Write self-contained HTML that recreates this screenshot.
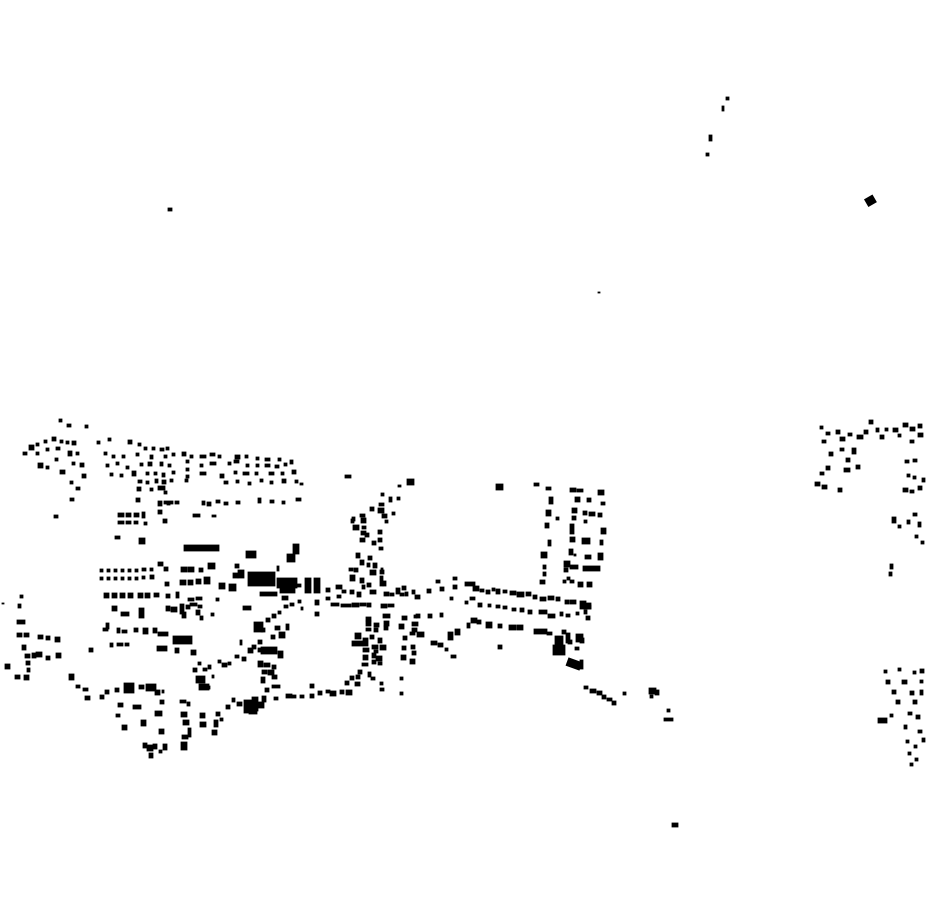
<!DOCTYPE html>
<html><head><meta charset="utf-8"><style>html,body{margin:0;padding:0;background:#fff}svg{display:block}</style></head>
<body>
<svg width="930" height="924" viewBox="0 0 930 924" xmlns="http://www.w3.org/2000/svg">
<g fill="#000" stroke="#000" stroke-width="0.8">
<rect x="168" y="208" width="4" height="3"/>
<rect x="726" y="97" width="3" height="3"/><rect x="722" y="106" width="2" height="5"/><rect x="709" y="135" width="3" height="6"/><rect x="706" y="153" width="3" height="3"/>
<rect x="866" y="197" width="9" height="8" transform="rotate(-30 870 201)"/>
<rect x="598" y="292" width="2" height="1"/>
<rect x="672" y="823" width="6" height="4"/>
<rect x="345" y="475" width="6" height="3"/><rect x="407" y="479" width="7" height="6"/><rect x="496" y="484" width="7" height="6"/>
<rect x="59" y="419" width="3" height="3"/><rect x="67" y="424" width="4" height="3"/><rect x="85" y="425" width="3" height="3"/>
<rect x="23" y="452" width="4" height="3"/><rect x="29" y="445" width="5" height="5"/><rect x="36" y="443" width="3" height="3"/><rect x="44" y="440" width="3" height="3"/>
<rect x="52" y="437" width="4" height="4"/><rect x="60" y="440" width="3" height="3"/><rect x="66" y="441" width="3" height="3"/><rect x="72" y="441" width="4" height="4"/>
<rect x="36" y="452" width="3" height="3"/><rect x="46" y="448" width="3" height="3"/><rect x="56" y="447" width="4" height="3"/><rect x="68" y="451" width="4" height="5"/><rect x="76" y="452" width="3" height="3"/>
<rect x="38" y="463" width="5" height="5"/><rect x="46" y="466" width="3" height="3"/><rect x="55" y="458" width="3" height="3"/><rect x="60" y="470" width="5" height="4"/><rect x="72" y="462" width="3" height="3"/><rect x="80" y="463" width="4" height="4"/>
<rect x="82" y="474" width="4" height="4"/><rect x="70" y="481" width="3" height="3"/><rect x="76" y="487" width="4" height="3"/><rect x="70" y="498" width="4" height="3"/><rect x="54" y="515" width="4" height="3"/>
<rect x="97" y="441" width="3" height="3"/><rect x="108" y="438" width="3" height="3"/><rect x="128" y="440" width="4" height="4"/><rect x="138" y="443" width="3" height="3"/><rect x="144" y="447" width="3" height="3"/><rect x="152" y="447" width="3" height="3"/><rect x="160" y="448" width="4" height="3"/><rect x="166" y="447" width="3" height="3"/><rect x="182" y="452" width="4" height="4"/><rect x="190" y="455" width="3" height="3"/><rect x="200" y="455" width="6" height="3"/><rect x="210" y="453" width="5" height="3"/><rect x="218" y="455" width="3" height="3"/><rect x="235" y="455" width="5" height="4"/><rect x="245" y="455" width="3" height="3"/><rect x="256" y="457" width="3" height="3"/><rect x="265" y="458" width="5" height="3"/><rect x="278" y="458" width="3" height="3"/><rect x="290" y="460" width="3" height="4"/>
<rect x="104" y="452" width="3" height="3"/><rect x="112" y="455" width="3" height="3"/><rect x="122" y="455" width="3" height="3"/><rect x="136" y="453" width="3" height="3"/><rect x="150" y="455" width="3" height="4"/><rect x="164" y="455" width="3" height="3"/><rect x="172" y="453" width="3" height="3"/><rect x="186" y="460" width="3" height="3"/><rect x="200" y="464" width="3" height="3"/><rect x="210" y="462" width="6" height="3"/><rect x="228" y="462" width="3" height="3"/><rect x="234" y="460" width="5" height="3"/><rect x="246" y="464" width="3" height="3"/><rect x="256" y="464" width="3" height="3"/><rect x="265" y="464" width="5" height="3"/><rect x="275" y="465" width="4" height="3"/><rect x="284" y="463" width="3" height="3"/>
<rect x="106" y="464" width="3" height="3"/><rect x="116" y="462" width="3" height="3"/><rect x="126" y="466" width="3" height="3"/><rect x="140" y="463" width="3" height="3"/><rect x="148" y="462" width="4" height="4"/><rect x="160" y="462" width="3" height="4"/><rect x="168" y="464" width="3" height="3"/><rect x="186" y="468" width="3" height="3"/><rect x="200" y="472" width="6" height="3"/><rect x="220" y="474" width="4" height="4"/><rect x="234" y="471" width="3" height="3"/><rect x="243" y="472" width="6" height="3"/><rect x="255" y="472" width="3" height="3"/><rect x="269" y="472" width="5" height="3"/><rect x="281" y="472" width="3" height="3"/><rect x="292" y="470" width="4" height="4"/>
<rect x="110" y="473" width="3" height="3"/><rect x="120" y="474" width="3" height="3"/><rect x="132" y="471" width="4" height="5"/><rect x="146" y="472" width="3" height="3"/><rect x="154" y="472" width="3" height="3"/><rect x="162" y="473" width="3" height="4"/><rect x="172" y="471" width="3" height="3"/><rect x="186" y="475" width="3" height="3"/><rect x="224" y="481" width="4" height="3"/><rect x="236" y="480" width="3" height="3"/><rect x="248" y="482" width="3" height="3"/><rect x="260" y="479" width="3" height="3"/><rect x="270" y="481" width="3" height="3"/><rect x="282" y="479" width="4" height="4"/><rect x="295" y="480" width="3" height="3"/><rect x="300" y="483" width="3" height="2"/>
<rect x="138" y="480" width="4" height="3"/><rect x="146" y="481" width="3" height="3"/><rect x="155" y="479" width="3" height="4"/><rect x="162" y="480" width="4" height="4"/><rect x="170" y="479" width="3" height="3"/><rect x="185" y="479" width="3" height="3"/>
<rect x="137" y="487" width="4" height="4"/><rect x="150" y="488" width="3" height="3"/><rect x="158" y="486" width="7" height="4"/><rect x="164" y="491" width="3" height="3"/><rect x="167" y="502" width="3" height="3"/><rect x="158" y="501" width="4" height="5"/><rect x="158" y="510" width="4" height="4"/><rect x="163" y="519" width="4" height="4"/>
<rect x="164" y="501" width="9" height="3"/><rect x="175" y="501" width="4" height="3"/><rect x="202" y="501" width="3" height="4"/><rect x="207" y="502" width="4" height="4"/><rect x="216" y="500" width="4" height="3"/><rect x="224" y="502" width="4" height="3"/><rect x="236" y="501" width="4" height="3"/><rect x="258" y="498" width="3" height="5"/><rect x="270" y="500" width="4" height="3"/><rect x="282" y="501" width="3" height="3"/><rect x="296" y="498" width="5" height="3"/>
<rect x="136" y="498" width="4" height="4"/><rect x="193" y="514" width="7" height="3"/><rect x="212" y="515" width="4" height="2"/>
<rect x="118" y="513" width="6" height="4"/><rect x="126" y="513" width="5" height="4"/><rect x="134" y="513" width="5" height="4"/><rect x="142" y="512" width="3" height="6"/>
<rect x="118" y="521" width="6" height="3"/><rect x="126" y="521" width="5" height="3"/><rect x="134" y="521" width="4" height="3"/><rect x="144" y="522" width="3" height="3"/>
<rect x="115" y="536" width="5" height="3"/><rect x="139" y="538" width="6" height="6"/>
<rect x="184" y="545" width="35" height="6"/><rect x="246" y="551" width="10" height="7"/>
<rect x="293" y="544" width="6" height="10"/><rect x="287" y="554" width="8" height="8"/><rect x="277" y="566" width="2" height="5"/>
<rect x="100" y="569" width="3" height="3"/><rect x="107" y="569" width="3" height="3"/><rect x="114" y="569" width="3" height="3"/><rect x="121" y="569" width="3" height="3"/><rect x="128" y="569" width="3" height="3"/><rect x="135" y="569" width="3" height="3"/><rect x="142" y="568" width="4" height="3"/><rect x="150" y="568" width="3" height="3"/><rect x="158" y="562" width="5" height="4"/><rect x="164" y="567" width="4" height="4"/>
<rect x="100" y="577" width="3" height="3"/><rect x="107" y="577" width="3" height="3"/><rect x="114" y="577" width="3" height="3"/><rect x="121" y="577" width="3" height="3"/><rect x="128" y="577" width="3" height="3"/><rect x="135" y="577" width="3" height="3"/><rect x="142" y="576" width="3" height="3"/><rect x="150" y="575" width="4" height="4"/><rect x="165" y="582" width="4" height="4"/>
<rect x="181" y="567" width="6" height="5"/><rect x="188" y="567" width="6" height="5"/><rect x="199" y="568" width="4" height="4"/><rect x="208" y="563" width="7" height="6"/><rect x="180" y="580" width="6" height="5"/><rect x="188" y="580" width="5" height="5"/><rect x="196" y="579" width="5" height="5"/><rect x="204" y="577" width="6" height="7"/>
<rect x="219" y="583" width="6" height="6"/><rect x="229" y="584" width="7" height="7"/><rect x="235" y="564" width="4" height="4"/><rect x="238" y="570" width="6" height="8"/><rect x="233" y="573" width="5" height="5"/>
<rect x="248" y="572" width="27" height="14"/><rect x="277" y="578" width="20" height="10"/><rect x="283" y="581" width="7" height="3"/><rect x="260" y="592" width="17" height="4"/><rect x="280" y="583" width="15" height="10"/>
<rect x="305" y="578" width="6" height="15"/><rect x="314" y="578" width="6" height="15"/><rect x="297" y="584" width="4" height="3"/>
<rect x="104" y="593" width="5" height="5"/><rect x="112" y="593" width="5" height="5"/><rect x="120" y="593" width="5" height="5"/><rect x="128" y="593" width="5" height="5"/><rect x="138" y="593" width="5" height="5"/><rect x="145" y="593" width="5" height="5"/><rect x="154" y="593" width="5" height="4"/><rect x="166" y="594" width="4" height="4"/><rect x="176" y="592" width="3" height="6"/>
<rect x="188" y="598" width="6" height="3"/><rect x="196" y="597" width="6" height="3"/><rect x="190" y="603" width="7" height="3"/><rect x="198" y="605" width="4" height="3"/><rect x="216" y="598" width="3" height="3"/>
<rect x="112" y="606" width="5" height="5"/><rect x="121" y="612" width="8" height="4"/><rect x="139" y="608" width="5" height="10"/><rect x="166" y="606" width="4" height="5"/><rect x="171" y="607" width="6" height="5"/><rect x="180" y="604" width="4" height="10"/><rect x="182" y="612" width="4" height="6"/><rect x="196" y="610" width="4" height="5"/><rect x="211" y="613" width="3" height="3"/>
<rect x="106" y="623" width="3" height="6"/><rect x="103" y="628" width="5" height="3"/><rect x="117" y="628" width="3" height="5"/><rect x="122" y="630" width="5" height="3"/><rect x="134" y="628" width="4" height="4"/><rect x="143" y="628" width="5" height="6"/><rect x="153" y="628" width="4" height="5"/><rect x="158" y="632" width="10" height="4"/>
<rect x="110" y="643" width="3" height="4"/><rect x="117" y="643" width="6" height="3"/><rect x="125" y="643" width="4" height="3"/><rect x="173" y="636" width="19" height="8"/><rect x="157" y="646" width="10" height="5"/><rect x="175" y="648" width="4" height="5"/><rect x="191" y="650" width="5" height="5"/>
<rect x="89" y="648" width="4" height="4"/><rect x="186" y="605" width="4" height="4"/><rect x="200" y="616" width="3" height="4"/>
<rect x="243" y="606" width="8" height="4"/><rect x="254" y="622" width="9" height="10"/><rect x="261" y="628" width="4" height="4"/><rect x="266" y="618" width="4" height="4"/><rect x="272" y="614" width="4" height="4"/><rect x="278" y="611" width="3" height="3"/><rect x="284" y="605" width="4" height="3"/><rect x="290" y="603" width="4" height="3"/><rect x="298" y="600" width="3" height="3"/><rect x="315" y="600" width="4" height="5"/><rect x="282" y="596" width="6" height="4"/>
<rect x="275" y="626" width="5" height="4"/><rect x="279" y="632" width="6" height="6"/><rect x="271" y="635" width="4" height="4"/><rect x="286" y="624" width="3" height="6"/><rect x="258" y="640" width="4" height="4"/><rect x="252" y="645" width="4" height="4"/>
<rect x="240" y="640" width="2" height="5"/><rect x="248" y="648" width="5" height="5"/><rect x="242" y="657" width="4" height="4"/><rect x="235" y="655" width="4" height="3"/><rect x="228" y="662" width="3" height="3"/><rect x="222" y="663" width="5" height="4"/><rect x="218" y="660" width="3" height="3"/><rect x="208" y="665" width="3" height="4"/><rect x="203" y="668" width="4" height="3"/><rect x="198" y="662" width="3" height="3"/><rect x="212" y="675" width="2" height="3"/>
<rect x="196" y="676" width="9" height="7"/><rect x="199" y="684" width="10" height="6"/><rect x="193" y="668" width="4" height="4"/><rect x="207" y="686" width="3" height="3"/>
<rect x="258" y="648" width="6" height="4"/><rect x="261" y="647" width="16" height="7"/><rect x="278" y="651" width="5" height="7"/><rect x="258" y="661" width="5" height="6"/><rect x="264" y="663" width="6" height="4"/><rect x="272" y="665" width="4" height="4"/><rect x="262" y="670" width="5" height="4"/><rect x="268" y="670" width="6" height="5"/><rect x="272" y="675" width="5" height="4"/><rect x="261" y="677" width="4" height="6"/><rect x="265" y="688" width="4" height="4"/><rect x="272" y="685" width="8" height="3"/>
<rect x="232" y="698" width="3" height="4"/><rect x="226" y="705" width="4" height="4"/><rect x="237" y="702" width="5" height="4"/><rect x="244" y="700" width="8" height="13"/><rect x="252" y="697" width="6" height="14"/><rect x="258" y="702" width="6" height="6"/><rect x="262" y="696" width="4" height="6"/><rect x="249" y="710" width="8" height="4"/>
<rect x="274" y="697" width="4" height="3"/><rect x="286" y="694" width="6" height="4"/><rect x="292" y="695" width="4" height="3"/><rect x="300" y="695" width="4" height="3"/><rect x="310" y="694" width="4" height="4"/><rect x="318" y="691" width="4" height="4"/><rect x="326" y="690" width="4" height="3"/><rect x="330" y="691" width="6" height="5"/><rect x="340" y="690" width="4" height="4"/><rect x="346" y="690" width="6" height="5"/><rect x="310" y="684" width="4" height="4"/>
<rect x="2" y="603" width="2" height="1"/><rect x="20" y="595" width="3" height="3"/><rect x="18" y="604" width="3" height="4"/><rect x="17" y="620" width="8" height="4"/>
<rect x="17" y="633" width="5" height="4"/><rect x="24" y="633" width="5" height="4"/><rect x="38" y="635" width="5" height="4"/><rect x="46" y="636" width="4" height="4"/><rect x="55" y="637" width="5" height="5"/>
<rect x="22" y="645" width="4" height="5"/><rect x="32" y="653" width="4" height="5"/><rect x="36" y="652" width="6" height="5"/><rect x="46" y="656" width="4" height="4"/><rect x="56" y="653" width="5" height="5"/>
<rect x="25" y="654" width="5" height="4"/><rect x="26" y="661" width="4" height="4"/><rect x="27" y="668" width="3" height="4"/><rect x="5" y="664" width="5" height="5"/><rect x="15" y="675" width="5" height="4"/><rect x="24" y="675" width="5" height="5"/>
<rect x="69" y="674" width="5" height="6"/><rect x="76" y="685" width="4" height="3"/><rect x="83" y="688" width="5" height="3"/><rect x="85" y="696" width="5" height="4"/><rect x="100" y="695" width="4" height="4"/><rect x="105" y="690" width="4" height="4"/><rect x="115" y="688" width="4" height="4"/>
<rect x="124" y="683" width="10" height="10"/><rect x="139" y="685" width="5" height="4"/><rect x="146" y="684" width="10" height="7"/><rect x="155" y="690" width="5" height="5"/><rect x="162" y="690" width="2" height="3"/>
<rect x="118" y="703" width="5" height="4"/><rect x="133" y="705" width="8" height="4"/><rect x="160" y="700" width="4" height="4"/><rect x="180" y="700" width="6" height="3"/><rect x="187" y="702" width="3" height="4"/>
<rect x="116" y="714" width="4" height="3"/><rect x="155" y="711" width="7" height="5"/><rect x="181" y="712" width="6" height="5"/><rect x="183" y="720" width="6" height="5"/><rect x="200" y="713" width="5" height="5"/><rect x="216" y="712" width="4" height="4"/><rect x="220" y="718" width="3" height="3"/>
<rect x="122" y="725" width="5" height="5"/><rect x="141" y="720" width="5" height="6"/><rect x="159" y="729" width="5" height="5"/><rect x="188" y="728" width="3" height="9"/><rect x="182" y="735" width="6" height="4"/><rect x="200" y="722" width="6" height="5"/><rect x="214" y="720" width="4" height="7"/><rect x="212" y="730" width="5" height="5"/>
<rect x="181" y="742" width="6" height="8"/><rect x="163" y="744" width="4" height="6"/><rect x="147" y="745" width="6" height="6"/><rect x="153" y="744" width="4" height="5"/><rect x="143" y="743" width="4" height="5"/><rect x="149" y="753" width="4" height="5"/><rect x="159" y="750" width="3" height="3"/>
<rect x="352" y="517" width="3" height="4"/><rect x="360" y="514" width="5" height="3"/><rect x="370" y="507" width="4" height="4"/><rect x="379" y="503" width="5" height="3"/><rect x="389" y="497" width="3" height="5"/><rect x="397" y="497" width="3" height="3"/><rect x="398" y="485" width="3" height="2"/><rect x="381" y="493" width="3" height="3"/>
<rect x="351" y="519" width="3" height="4"/><rect x="353" y="525" width="6" height="5"/><rect x="361" y="518" width="5" height="5"/><rect x="362" y="526" width="4" height="3"/><rect x="361" y="531" width="5" height="4"/><rect x="378" y="508" width="6" height="5"/><rect x="382" y="514" width="5" height="4"/><rect x="385" y="520" width="3" height="3"/><rect x="392" y="512" width="3" height="3"/>
<rect x="360" y="538" width="5" height="4"/><rect x="365" y="533" width="4" height="4"/><rect x="378" y="530" width="4" height="4"/><rect x="372" y="541" width="4" height="4"/><rect x="378" y="538" width="4" height="4"/><rect x="379" y="547" width="4" height="3"/>
<rect x="356" y="553" width="4" height="5"/><rect x="360" y="560" width="4" height="5"/><rect x="368" y="556" width="4" height="4"/><rect x="367" y="563" width="3" height="4"/><rect x="349" y="568" width="4" height="3"/><rect x="354" y="568" width="4" height="4"/><rect x="370" y="570" width="6" height="5"/><rect x="373" y="563" width="4" height="5"/><rect x="380" y="570" width="4" height="4"/><rect x="350" y="575" width="5" height="6"/><rect x="360" y="578" width="4" height="5"/><rect x="362" y="585" width="3" height="4"/><rect x="367" y="583" width="4" height="4"/><rect x="381" y="568" width="2" height="4"/>
<rect x="380" y="576" width="3" height="10"/><rect x="383" y="581" width="3" height="5"/><rect x="370" y="590" width="6" height="4"/><rect x="357" y="592" width="4" height="5"/><rect x="350" y="590" width="4" height="4"/>
<rect x="342" y="590" width="4" height="3"/><rect x="336" y="585" width="6" height="4"/><rect x="326" y="588" width="4" height="4"/><rect x="337" y="595" width="4" height="3"/><rect x="326" y="597" width="4" height="3"/>
<rect x="331" y="603" width="8" height="3"/><rect x="341" y="604" width="10" height="3"/><rect x="352" y="603" width="7" height="4"/><rect x="360" y="603" width="6" height="3"/><rect x="367" y="603" width="4" height="4"/><rect x="381" y="604" width="6" height="4"/><rect x="388" y="604" width="6" height="3"/>
<rect x="384" y="592" width="5" height="4"/><rect x="390" y="593" width="4" height="3"/><rect x="396" y="588" width="4" height="6"/><rect x="402" y="586" width="4" height="4"/><rect x="400" y="593" width="4" height="3"/><rect x="405" y="592" width="3" height="4"/><rect x="412" y="590" width="3" height="4"/><rect x="415" y="595" width="5" height="4"/><rect x="427" y="589" width="4" height="4"/><rect x="436" y="580" width="4" height="3"/><rect x="440" y="587" width="4" height="4"/><rect x="453" y="577" width="4" height="3"/><rect x="453" y="585" width="4" height="4"/><rect x="450" y="597" width="3" height="3"/>
<rect x="465" y="582" width="10" height="4"/><rect x="473" y="586" width="6" height="5"/><rect x="480" y="589" width="4" height="3"/><rect x="486" y="590" width="4" height="4"/><rect x="492" y="588" width="3" height="3"/><rect x="496" y="589" width="4" height="5"/><rect x="503" y="590" width="4" height="3"/><rect x="510" y="591" width="6" height="4"/><rect x="517" y="592" width="7" height="5"/><rect x="526" y="592" width="5" height="4"/><rect x="533" y="595" width="4" height="4"/><rect x="540" y="597" width="6" height="4"/><rect x="548" y="596" width="6" height="4"/><rect x="556" y="597" width="4" height="4"/><rect x="565" y="600" width="4" height="4"/><rect x="570" y="600" width="6" height="4"/><rect x="580" y="601" width="6" height="8"/><rect x="584" y="603" width="7" height="6"/>
<rect x="465" y="601" width="3" height="3"/><rect x="470" y="597" width="5" height="3"/><rect x="478" y="603" width="4" height="4"/><rect x="488" y="604" width="3" height="3"/><rect x="496" y="605" width="4" height="3"/><rect x="503" y="606" width="4" height="3"/><rect x="512" y="608" width="4" height="3"/><rect x="520" y="608" width="4" height="4"/><rect x="528" y="610" width="4" height="4"/><rect x="539" y="610" width="8" height="4"/><rect x="548" y="614" width="7" height="4"/><rect x="560" y="612" width="3" height="4"/><rect x="566" y="614" width="4" height="3"/><rect x="576" y="612" width="3" height="3"/><rect x="584" y="610" width="3" height="4"/><rect x="586" y="616" width="4" height="4"/><rect x="587" y="605" width="4" height="4"/>
<rect x="471" y="618" width="6" height="5"/><rect x="477" y="620" width="4" height="4"/><rect x="486" y="622" width="6" height="6"/><rect x="498" y="624" width="4" height="4"/><rect x="509" y="625" width="7" height="5"/><rect x="517" y="625" width="6" height="5"/><rect x="534" y="629" width="13" height="5"/><rect x="547" y="632" width="5" height="3"/><rect x="562" y="630" width="4" height="4"/>
<rect x="301" y="607" width="2" height="3"/><rect x="315" y="612" width="4" height="4"/>
<rect x="366" y="617" width="5" height="4"/><rect x="383" y="614" width="7" height="4"/><rect x="366" y="621" width="5" height="5"/><rect x="374" y="623" width="5" height="4"/><rect x="384" y="621" width="5" height="5"/><rect x="366" y="628" width="5" height="3"/><rect x="374" y="628" width="4" height="4"/><rect x="384" y="626" width="4" height="4"/>
<rect x="416" y="614" width="4" height="4"/><rect x="402" y="616" width="5" height="4"/><rect x="414" y="615" width="3" height="3"/><rect x="412" y="622" width="6" height="4"/><rect x="412" y="628" width="5" height="4"/><rect x="399" y="624" width="5" height="5"/><rect x="410" y="632" width="5" height="3"/><rect x="417" y="632" width="7" height="5"/>
<rect x="355" y="633" width="6" height="6"/><rect x="352" y="641" width="11" height="5"/><rect x="363" y="638" width="5" height="8"/><rect x="370" y="635" width="4" height="4"/><rect x="378" y="638" width="4" height="5"/><rect x="372" y="645" width="6" height="4"/><rect x="380" y="645" width="6" height="5"/><rect x="363" y="648" width="6" height="4"/><rect x="374" y="650" width="4" height="3"/><rect x="363" y="655" width="5" height="5"/><rect x="372" y="653" width="4" height="5"/><rect x="376" y="656" width="6" height="5"/><rect x="362" y="663" width="6" height="3"/><rect x="372" y="660" width="4" height="4"/><rect x="378" y="662" width="4" height="3"/><rect x="358" y="670" width="4" height="4"/><rect x="368" y="672" width="3" height="5"/>
<rect x="403" y="636" width="4" height="4"/><rect x="402" y="646" width="4" height="4"/><rect x="401" y="655" width="5" height="5"/><rect x="411" y="645" width="4" height="4"/><rect x="412" y="651" width="4" height="4"/><rect x="410" y="659" width="5" height="5"/>
<rect x="345" y="681" width="4" height="4"/><rect x="350" y="676" width="4" height="4"/><rect x="355" y="682" width="5" height="4"/><rect x="356" y="675" width="4" height="4"/><rect x="371" y="677" width="4" height="3"/><rect x="380" y="682" width="3" height="3"/><rect x="380" y="688" width="4" height="3"/><rect x="400" y="677" width="3" height="3"/><rect x="400" y="692" width="3" height="3"/>
<rect x="428" y="614" width="4" height="4"/><rect x="440" y="613" width="3" height="4"/><rect x="431" y="641" width="6" height="4"/><rect x="438" y="643" width="5" height="4"/><rect x="445" y="648" width="3" height="3"/><rect x="451" y="655" width="5" height="3"/><rect x="448" y="632" width="5" height="8"/><rect x="455" y="629" width="5" height="6"/><rect x="467" y="623" width="3" height="5"/>
<rect x="498" y="645" width="4" height="4"/><rect x="555" y="636" width="8" height="13"/><rect x="553" y="645" width="12" height="10"/><rect x="566" y="633" width="4" height="10"/><rect x="568" y="640" width="4" height="4"/><rect x="576" y="634" width="7" height="8"/><rect x="580" y="638" width="4" height="5"/><rect x="575" y="647" width="4" height="3"/><rect x="567" y="660" width="14" height="8" transform="rotate(20 574 664)"/><rect x="580" y="660" width="3" height="9"/>
<rect x="534" y="483" width="5" height="3"/><rect x="546" y="487" width="5" height="3"/><rect x="570" y="488" width="6" height="4"/><rect x="577" y="489" width="6" height="3"/><rect x="598" y="490" width="6" height="5"/>
<rect x="549" y="497" width="4" height="7"/><rect x="575" y="497" width="5" height="5"/><rect x="587" y="498" width="4" height="4"/><rect x="601" y="502" width="4" height="3"/>
<rect x="546" y="510" width="5" height="6"/><rect x="556" y="517" width="3" height="3"/><rect x="572" y="508" width="5" height="5"/><rect x="583" y="511" width="4" height="4"/><rect x="589" y="512" width="6" height="4"/><rect x="598" y="513" width="4" height="4"/><rect x="572" y="516" width="4" height="4"/>
<rect x="545" y="523" width="4" height="5"/><rect x="570" y="524" width="4" height="10"/><rect x="584" y="520" width="3" height="3"/><rect x="601" y="528" width="5" height="6"/>
<rect x="548" y="540" width="3" height="6"/><rect x="570" y="537" width="5" height="5"/><rect x="582" y="538" width="8" height="6"/><rect x="600" y="540" width="3" height="5"/>
<rect x="541" y="552" width="6" height="6"/><rect x="569" y="549" width="4" height="6"/><rect x="574" y="554" width="2" height="2"/><rect x="585" y="555" width="6" height="4"/><rect x="598" y="553" width="5" height="7"/>
<rect x="543" y="565" width="3" height="4"/><rect x="564" y="561" width="6" height="6"/><rect x="570" y="565" width="8" height="4"/><rect x="583" y="566" width="17" height="5"/><rect x="564" y="568" width="4" height="4"/>
<rect x="543" y="572" width="3" height="4"/><rect x="567" y="577" width="3" height="3"/><rect x="570" y="580" width="4" height="3"/><rect x="578" y="582" width="5" height="5"/><rect x="587" y="582" width="5" height="5"/><rect x="563" y="580" width="3" height="3"/><rect x="540" y="580" width="5" height="4"/>
<rect x="584" y="686" width="4" height="3"/><rect x="590" y="689" width="6" height="4"/><rect x="597" y="691" width="5" height="4"/><rect x="602" y="695" width="4" height="4"/><rect x="607" y="698" width="5" height="3"/><rect x="612" y="701" width="4" height="4"/><rect x="623" y="692" width="3" height="3"/>
<rect x="649" y="688" width="7" height="6"/><rect x="655" y="690" width="4" height="5"/><rect x="650" y="695" width="3" height="3"/><rect x="667" y="709" width="3" height="3"/><rect x="664" y="718" width="9" height="3"/>
<rect x="820" y="426" width="3" height="3"/><rect x="826" y="432" width="4" height="3"/><rect x="822" y="440" width="4" height="3"/><rect x="836" y="430" width="4" height="4"/><rect x="840" y="437" width="5" height="4"/><rect x="848" y="433" width="4" height="3"/><rect x="857" y="435" width="6" height="4"/><rect x="864" y="430" width="4" height="4"/><rect x="869" y="420" width="4" height="4"/><rect x="876" y="428" width="3" height="4"/><rect x="880" y="435" width="4" height="4"/><rect x="885" y="428" width="3" height="3"/><rect x="893" y="428" width="5" height="4"/><rect x="903" y="423" width="5" height="4"/><rect x="910" y="427" width="5" height="4"/><rect x="918" y="424" width="4" height="4"/><rect x="898" y="434" width="3" height="3"/><rect x="918" y="433" width="5" height="4"/><rect x="910" y="440" width="4" height="3"/>
<rect x="829" y="452" width="4" height="4"/><rect x="840" y="448" width="4" height="3"/><rect x="852" y="448" width="4" height="6"/><rect x="846" y="458" width="4" height="4"/><rect x="856" y="465" width="4" height="4"/><rect x="844" y="468" width="6" height="4"/><rect x="826" y="466" width="4" height="4"/><rect x="820" y="472" width="4" height="3"/><rect x="815" y="482" width="5" height="4"/><rect x="822" y="485" width="5" height="4"/><rect x="838" y="488" width="4" height="4"/><rect x="905" y="460" width="4" height="3"/><rect x="913" y="459" width="4" height="3"/><rect x="907" y="474" width="3" height="3"/><rect x="913" y="476" width="3" height="3"/><rect x="903" y="488" width="5" height="4"/><rect x="910" y="490" width="4" height="3"/><rect x="918" y="486" width="4" height="4"/><rect x="922" y="478" width="3" height="4"/>
<rect x="892" y="517" width="4" height="6"/><rect x="898" y="525" width="3" height="3"/><rect x="907" y="520" width="3" height="4"/><rect x="913" y="513" width="4" height="3"/><rect x="918" y="522" width="3" height="5"/><rect x="915" y="535" width="3" height="3"/><rect x="921" y="541" width="3" height="3"/><rect x="890" y="564" width="3" height="5"/><rect x="889" y="572" width="3" height="4"/>
<rect x="884" y="670" width="3" height="3"/><rect x="898" y="668" width="3" height="3"/><rect x="913" y="671" width="3" height="3"/><rect x="920" y="669" width="4" height="4"/>
<rect x="886" y="680" width="4" height="4"/><rect x="902" y="680" width="5" height="4"/><rect x="920" y="680" width="3" height="3"/>
<rect x="892" y="690" width="4" height="4"/><rect x="910" y="691" width="4" height="4"/><rect x="920" y="690" width="3" height="5"/>
<rect x="896" y="700" width="4" height="4"/><rect x="913" y="700" width="4" height="4"/>
<rect x="878" y="718" width="9" height="5"/><rect x="890" y="714" width="3" height="3"/><rect x="908" y="712" width="4" height="3"/><rect x="916" y="715" width="4" height="4"/>
<rect x="904" y="725" width="3" height="4"/><rect x="918" y="730" width="4" height="3"/><rect x="922" y="738" width="3" height="4"/><rect x="906" y="740" width="3" height="3"/><rect x="914" y="745" width="3" height="3"/><rect x="908" y="752" width="3" height="3"/><rect x="915" y="758" width="3" height="3"/><rect x="910" y="763" width="3" height="3"/>
</g>
</svg>
</body></html>
